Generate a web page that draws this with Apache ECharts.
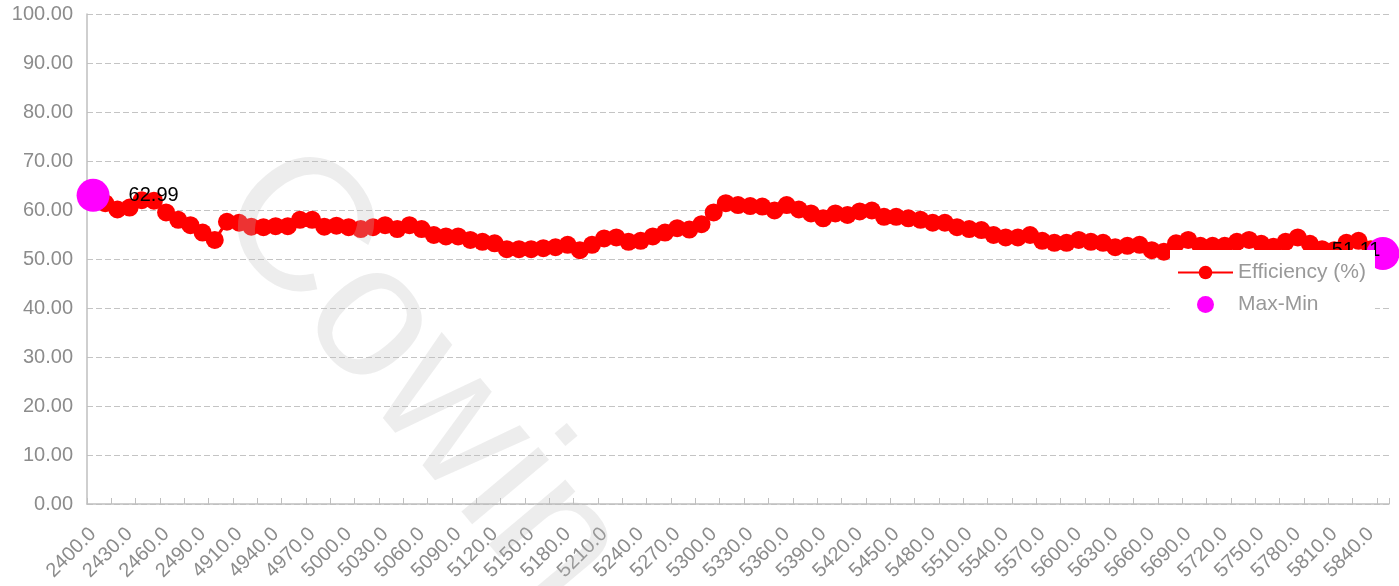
<!DOCTYPE html>
<html>
<head>
<meta charset="utf-8">
<script src="https://cdn.jsdelivr.net/npm/echarts@6/dist/echarts.min.js"></script>
<style>
html,body{margin:0;padding:0;background:#fff;}
#c{width:1399px;height:586px;}
</style>
</head>
<body>
<div id="c"></div>
<script>
var categories = [
 '2400.0','2410.0','2420.0','2430.0','2440.0','2450.0','2460.0','2470.0','2480.0','2490.0','2500.0',
 '4900.0','4910.0','4920.0','4930.0','4940.0','4950.0','4960.0','4970.0','4980.0','4990.0',
 '5000.0','5010.0','5020.0','5030.0','5040.0','5050.0','5060.0','5070.0','5080.0','5090.0',
 '5100.0','5110.0','5120.0','5130.0','5140.0','5150.0','5160.0','5170.0','5180.0','5190.0',
 '5200.0','5210.0','5220.0','5230.0','5240.0','5250.0','5260.0','5270.0','5280.0','5290.0',
 '5300.0','5310.0','5320.0','5330.0','5340.0','5350.0','5360.0','5370.0','5380.0','5390.0',
 '5400.0','5410.0','5420.0','5430.0','5440.0','5450.0','5460.0','5470.0','5480.0','5490.0',
 '5500.0','5510.0','5520.0','5530.0','5540.0','5550.0','5560.0','5570.0','5580.0','5590.0',
 '5600.0','5610.0','5620.0','5630.0','5640.0','5650.0','5660.0','5670.0','5680.0','5690.0',
 '5700.0','5710.0','5720.0','5730.0','5740.0','5750.0','5760.0','5770.0','5780.0','5790.0',
 '5800.0','5810.0','5820.0','5830.0','5840.0','5850.0'
];
var efficiency = [
 62.99,61.4,60.1,60.5,62.0,61.9,59.5,58.0,56.9,55.4,53.9,
 57.6,57.4,56.6,56.5,56.7,56.7,58.0,58.0,56.6,56.8,
 56.5,56.1,56.5,56.9,56.1,56.9,56.1,54.9,54.6,54.6,
 53.9,53.5,53.2,52.0,52.0,52.0,52.2,52.4,52.9,51.8,
 52.9,54.2,54.4,53.5,53.7,54.6,55.4,56.3,56.0,57.1,
 59.5,61.4,61.0,60.8,60.7,59.9,61.0,60.1,59.3,58.3,
 59.3,59.0,59.7,59.9,58.6,58.6,58.3,58.0,57.4,57.4,
 56.5,56.1,55.9,54.9,54.4,54.4,54.9,53.7,53.3,53.3,
 53.9,53.5,53.3,52.4,52.7,52.9,51.8,51.5,53.2,53.9,
 52.7,52.7,52.7,53.5,53.9,53.1,52.5,53.5,54.4,53.1,
 52.0,51.8,53.3,53.7,52.0,51.11
];
var seriesNames = ['Efficiency (%)', 'Max-Min'];
var watermarkText = 'Cowin';

var maxIdx = efficiency.indexOf(Math.max.apply(null, efficiency));
var minIdx = efficiency.indexOf(Math.min.apply(null, efficiency));

var FONT = "'Liberation Sans', Arial, sans-serif";
var chart = echarts.init(document.getElementById('c'), null, {renderer: 'canvas'});
chart.setOption({
  animation: false,
  textStyle: {fontFamily: FONT},
  grid: {left: 87, right: 10, top: 14, bottom: 82, containLabel: false},
  legend: {
    orient: 'vertical',
    left: 1170,
    top: 250,
    padding: [12, 9, 10, 7],
    backgroundColor: '#fff',
    itemWidth: 55,
    itemHeight: 17,
    itemGap: 11,
    itemTextGap: 7,
    textStyle: {fontSize: 21, color: '#999999', fontFamily: FONT},
    data: seriesNames
  },
  xAxis: {
    type: 'category',
    data: categories,
    boundaryGap: true,
    axisLine: {lineStyle: {color: '#bfbfbf', width: 1.5}},
    axisTick: {show: true, inside: true, length: 6, interval: 1, lineStyle: {color: '#bfbfbf'}},
    axisLabel: {interval: 2, rotate: 45, fontSize: 20, color: '#8c8c8c', margin: 27, fontFamily: FONT},
    splitLine: {show: false}
  },
  yAxis: {
    type: 'value',
    min: 0, max: 100, interval: 10,
    axisLine: {show: true, lineStyle: {color: '#bfbfbf', width: 1.5}},
    axisTick: {show: false},
    axisLabel: {fontSize: 20, color: '#8c8c8c', margin: 14, fontFamily: FONT,
      formatter: function (v) { return v.toFixed(2); }},
    splitLine: {show: true, lineStyle: {color: '#c4c4c4', type: [6, 3], width: 1.2}}
  },
  series: [
    {
      name: seriesNames[0],
      type: 'line',
      data: efficiency,
      symbol: 'circle',
      symbolSize: 18,
      showSymbol: true,
      showAllSymbol: true,
      lineStyle: {color: '#ff0000', width: 3},
      itemStyle: {color: '#ff0000', opacity: 1},
      z: 2
    },
    {
      name: seriesNames[1],
      type: 'scatter',
      symbol: 'circle',
      symbolSize: 33,
      itemStyle: {color: '#ff00ff', opacity: 1},
      z: 3,
      data: [
        {value: [maxIdx, efficiency[maxIdx]],
         label: {show: true, position: 'right', distance: 19}},
        {value: [minIdx, efficiency[minIdx]],
         label: {show: true, position: 'left', distance: -14, offset: [0, -3]}}
      ],
      label: {
        color: '#000', fontSize: 20, fontFamily: FONT,
        formatter: function (p) { return p.value[1].toFixed(2); }
      }
    }
  ],
  graphic: [{
    type: 'text',
    x: 249, y: 177,
    rotation: -50 * Math.PI / 180,
    z: 100,
    silent: true,
    style: {
      text: watermarkText,
      font: "190px 'Liberation Sans', Arial, sans-serif",
      fill: 'rgba(190,190,190,0.27)',
      textAlign: 'left',
      textVerticalAlign: 'middle'
    }
  }]
});
</script>
</body>
</html>
